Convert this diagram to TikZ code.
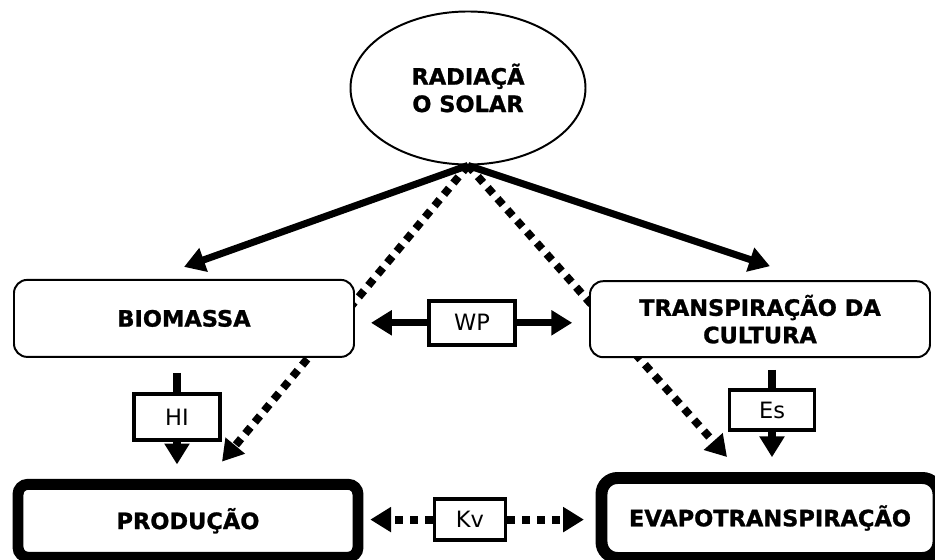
\documentclass[tikz,border=0pt]{standalone}
\usepackage{fontspec}
\setmainfont{DejaVu Sans}[BoldFeatures={FakeBold=1.2}]
\usetikzlibrary{shapes.geometric}
\usetikzlibrary{arrows.meta}

\begin{document}
\begin{tikzpicture}[
  bigtext/.style={font=\fontsize{16}{19.5}\selectfont\bfseries, align=center},
  softbox/.style={bigtext, draw, line width=1.4pt, rounded corners=0.33cm, fill=white, minimum width=8.5cm, minimum height=1.925cm},
  heavybox/.style={bigtext, draw, fill=white, minimum width=8.5cm},
  factor/.style={draw, line width=2.8pt, fill=white, font=\fontsize{16}{19}\selectfont, inner sep=0pt},
  flow/.style={line width=5pt, -{Triangle[length=0.52cm,width=0.6cm]}},
  leak/.style={line width=5.6pt, dash pattern=on 0.2cm off 0.17cm, -{Triangle[length=0.52cm,width=0.6cm]}}
]
\useasboundingbox (0,0) rectangle (23.375,14);
\node[ellipse, draw, line width=1.4pt, minimum width=5.875cm, minimum height=3.825cm, inner sep=0pt, bigtext] (sun) at (11.7,11.8) {RADIAÇÃ\\O SOLAR};
\node[heavybox, line width=7.8pt, rounded corners=0.25cm, minimum height=1.825cm] (prod) at (4.7,0.98) {PRODUÇÃO};
\node[heavybox, line width=8.5pt, rounded corners=0.4cm, minimum width=8.425cm, minimum height=2cm] (evapo) at (19.25,1.05) {EVAPOTRANSPIRAÇÃO};

\draw[leak] (sun.south) -- ([shift={(0.85,0.43)}]prod.north);
\draw[leak] (sun.south) -- ([shift={(-1.075,0.375)}]evapo.north);

\node[softbox] (bio) at (4.6,6.04) {BIOMASSA};
\node[softbox, minimum height=1.9cm] (transp) at (19.0,6.02) {TRANSPIRAÇÃO DA\\CULTURA};
\node[factor, minimum width=2.15cm, minimum height=1.1cm] (wp) at (11.8,5.93) {WP};
\node[factor, minimum width=2.15cm, minimum height=1.15cm] (hi) at (4.425,3.575) {HI};
\node[factor, minimum width=2.125cm, minimum height=1cm] (es) at (19.3,3.75) {Es};
\node[factor, minimum width=1.775cm, minimum height=1.025cm] (kv) at (11.75,1.01) {Kv};
\coordinate (hitop) at (4.425,4.675);
\coordinate (estop) at (19.3,4.75);

\draw[flow] (sun.south) -- ([yshift=0.3cm]bio.north);
\draw[flow] (sun.south) -- ([shift={(0.25,0.35)}]transp.north);
\draw[flow, shorten >=0.4cm] (wp.west) -- (wp.west -| bio.east);
\draw[flow, shorten >=0.42cm] (wp.east) -- (wp.east -| transp.west);
\draw[line width=5pt] (hitop) -- (hi.north);
\draw[flow, shorten >=0.36cm] (hi.south) -- (hi.south |- prod.north);
\draw[line width=5pt] (estop) -- (es.north);
\draw[flow, shorten >=0.37cm] (es.south) -- (es.south |- evapo.north);
\draw[leak, shorten >=0.17cm] (kv.west) -- (kv.west -| prod.east);
\draw[leak, shorten >=0.29cm] (kv.east) -- (kv.east -| evapo.west);

\end{tikzpicture}
\end{document}
